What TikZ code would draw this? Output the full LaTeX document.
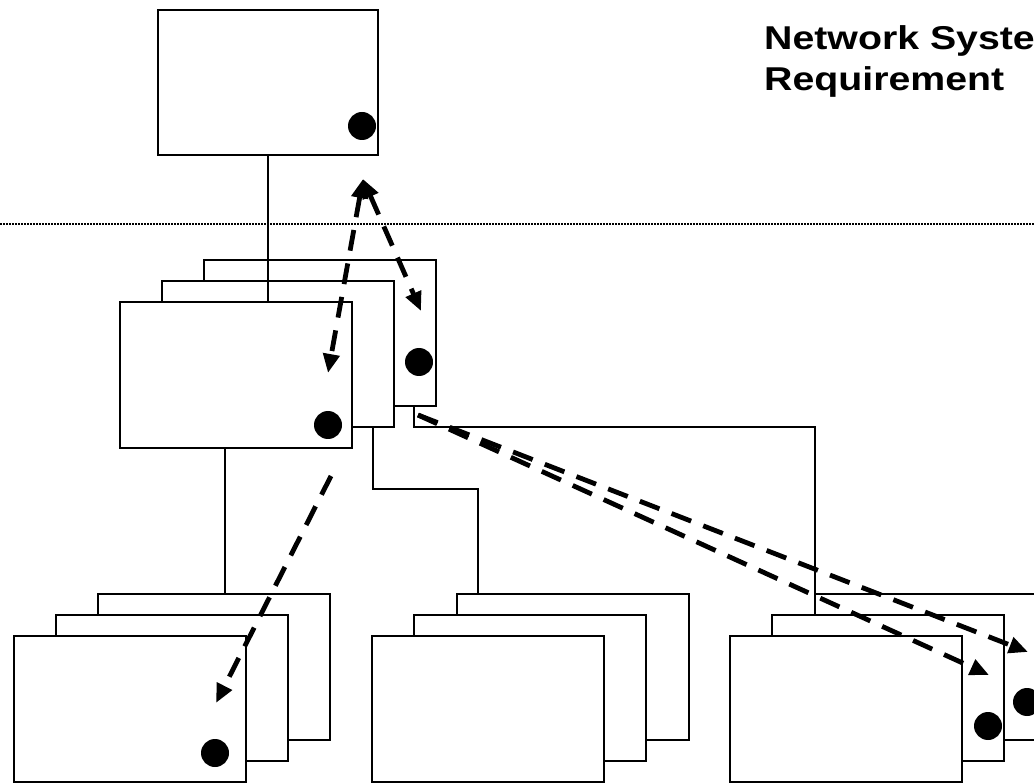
\documentclass[tikz,border=0pt]{standalone}
\usepackage{graphicx}
\usepackage{fontspec}
\newfontfamily\lsans{Liberation Sans}
\usetikzlibrary{arrows.meta}
\tikzset{
  box/.style={draw=black, fill=white, line width=1.3pt, minimum width=232pt, minimum height=146pt, anchor=north west, inner sep=0pt, outer sep=0pt},
  topbox/.style={box, minimum width=220pt, minimum height=145pt},
  wire/.style={draw=black, line width=1.3pt},
  dot/.style={fill=black, circle, minimum size=28pt, inner sep=0pt},
  darrow/.style={line width=4.8pt, dash pattern=on 21pt off 13pt, -{Triangle[length=19pt,width=16pt]}},
  dbarrow/.style={line width=4.8pt, dash pattern=on 21pt off 13pt, {Triangle[length=19pt,width=16pt]}-{Triangle[length=19pt,width=16pt]}},
  title/.style={anchor=base west, inner sep=0pt, font=\lsans\bfseries\fontsize{33}{37}\selectfont}
}
\begin{document}
\begin{tikzpicture}[x=1pt, y=-1pt]
\path[use as bounding box] (0,0) rectangle (1034,783);
\clip (0,0) rectangle (1034,783);
\fill[white] (0,0) rectangle (1034,783);

% dotted separator
\coordinate (sepL) at (0,224);
\coordinate (sepR) at (1034,224);
\draw[line width=1.1pt, dash pattern=on 1.6pt off 1.4pt] (sepL) -- (sepR);

% title
\node[title] (t1) at (764,50) {\scalebox{1.19}[1]{Network System}};
\node[title] (t2) at (764,91) {\scalebox{1.19}[1]{Requirement}};

% top box
\node[topbox] (T) at (158,10) {};

% middle stack
\node[box] (M3) at (204,260) {};
\node[box] (M2) at (162,281) {};
\node[box] (M1) at (120,302) {};

% bottom-left stack
\node[box] (B3) at (98,594) {};
\node[box] (B2) at (56,615) {};
\node[box] (B1) at (14,636) {};

% bottom-middle stack
\node[box] (C3) at (457,594) {};
\node[box] (C2) at (414,615) {};
\node[box] (C1) at (372,636) {};

% bottom-right stack
\node[box] (D3) at (815,594) {};
\node[box] (D2) at (772,615) {};
\node[box] (D1) at (730,636) {};

% connectors
\draw[wire] (T.south) -- (T.south |- M1.north);
\draw[wire] ([xshift=105pt]M1.south west) -- ([xshift=105pt]M1.south west |- B3.north);
\draw[wire] ([xshift=211pt]M2.south west) -- ++(0,62) -| ([xshift=21pt]C3.north west);
\draw[wire] ([xshift=210pt]M3.south west) -- ++(0,21) -| (D3.north west);

% dots
\node[dot] (dT) at (362,126) {};
\node[dot] (dM3) at (419,362) {};
\node[dot] (dM1) at (328,425) {};
\node[dot] (dB1) at (215,753) {};
\node[dot] (dD2) at (988,726) {};
\node[dot] (dD3) at (1027,702) {};

% arrow end points
\coordinate (apex) at (363,179);
\coordinate (eM1) at (328,373);
\coordinate (eM3) at (421,311);
\coordinate (sB) at (331,476);
\coordinate (eB1) at (216,703);
\coordinate (sD) at (418,415);
\coordinate (eD2) at (989,675);
\coordinate (eD3) at (1028,652);

% dashed arrows
\draw[dbarrow] (apex) -- (eM1);
\draw[dbarrow] (apex) -- (eM3);
\draw[darrow] (sB) -- (eB1);
\draw[darrow] (sD) -- (eD2);
\draw[darrow] (sD) -- (eD3);
\end{tikzpicture}
\end{document}
